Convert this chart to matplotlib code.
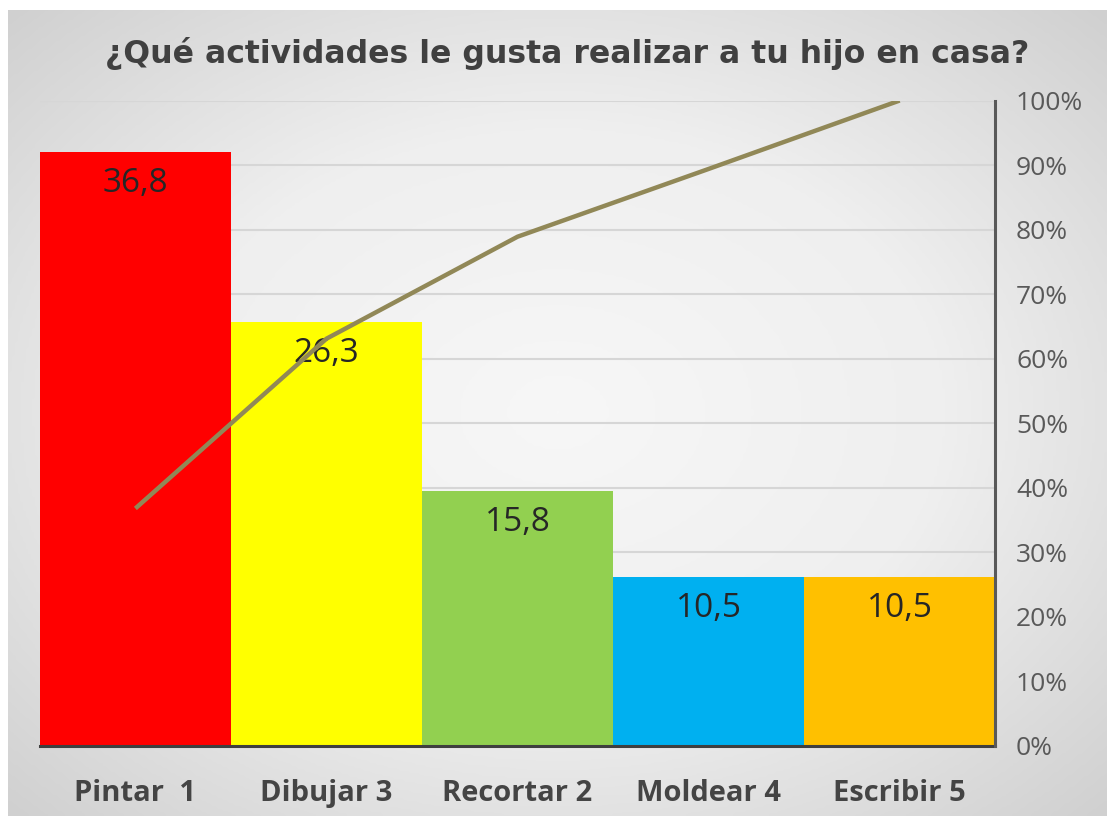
import numpy as np
import matplotlib.pyplot as plt
from matplotlib.colors import LinearSegmentedColormap
from matplotlib.ticker import FuncFormatter

# datos
actividades = ["Pintar  1", "Dibujar 3", "Recortar 2", "Moldear 4", "Escribir 5"]
porcentajes = [36.8, 26.3, 15.8, 10.5, 10.5]
acumulado = [36.8, 63.1, 78.9, 89.4, 100.0]
etiquetas = ["36,8", "26,3", "15,8", "10,5", "10,5"]
colores = ["#FF0000", "#FFFF00", "#92D050", "#00B0F0", "#FFC000"]

fig = plt.figure(figsize=(11.07, 8.16), dpi=100, facecolor="white")

# fondo degradado (tipo Excel)
bg = fig.add_axes([0.007, 0.0, 0.993, 0.988])
yy, xx = np.mgrid[-1:1:300j, -1:1:400j]
r = np.clip(np.sqrt(xx**2 + yy**2) / 1.414, 0, 1)
cmap_bg = LinearSegmentedColormap.from_list("fondo", ["#F7F7F7", "#EFEFEF", "#D0D0D0"])
bg.imshow(r, cmap=cmap_bg, vmin=0, vmax=1, aspect="auto",
          extent=[0, 1, 0, 1], interpolation="bilinear")
bg.set_axis_off()

ax = fig.add_axes([0.036, 0.0858, 0.863, 0.791])
ax.set_facecolor("none")
x = np.arange(len(actividades))
barras = ax.bar(x, porcentajes, width=1.0, color=colores, zorder=2)
ax.set_xlim(-0.5, len(actividades) - 0.5)
ax.set_ylim(0, 40)
ax.set_yticks(np.arange(0, 41, 4))
ax.yaxis.grid(True, color="#D6D6D6", linewidth=1.5, zorder=0)
ax.set_axisbelow(True)
ax.set_xticks(x)
ax.set_xticklabels(actividades, fontfamily="Open Sans", fontweight="bold",
                   fontsize=21, color="#444444")

for b, txt in zip(barras, etiquetas):
    ax.annotate(txt, (b.get_x() + b.get_width() / 2, b.get_height()),
                xytext=(0, -11), textcoords="offset points", ha="center", va="top",
                fontfamily="Open Sans", fontsize=24, color="#262626", zorder=3)

# eje secundario (pareto)
ax2 = ax.twinx()
ax2.plot(x, acumulado, color="#918857", linewidth=3.2, solid_capstyle="butt", zorder=5)
ax2.set_ylim(0, 100)
ax2.set_yticks(np.arange(0, 101, 10))
ax2.yaxis.set_major_formatter(FuncFormatter(lambda v, p: f"{v:.0f}%"))
ax2.tick_params(axis="y", length=0, pad=15, labelsize=19, labelcolor="#595959")
for lbl in ax2.get_yticklabels():
    lbl.set_fontfamily("Open Sans")

ax.tick_params(axis="y", left=False, right=False, labelleft=False, labelright=False)
ax.tick_params(axis="x", length=0, pad=24)

for s in ["top", "left", "right"]:
    ax.spines[s].set_visible(False)
    ax2.spines[s].set_visible(False)
ax2.spines["bottom"].set_visible(False)
ax.spines["bottom"].set_color("#3F3F3F")
ax.spines["bottom"].set_linewidth(2.2)
ax2.spines["right"].set_visible(True)
ax2.spines["right"].set_color("#595959")
ax2.spines["right"].set_linewidth(2.2)

fig.text(0.512, 0.935, "¿Qué actividades le gusta realizar a tu hijo en casa?",
         ha="center", va="center", fontfamily="DejaVu Sans", fontweight="bold",
         fontsize=22.7, color="#404040")

fig.savefig("out.png", dpi=100)
